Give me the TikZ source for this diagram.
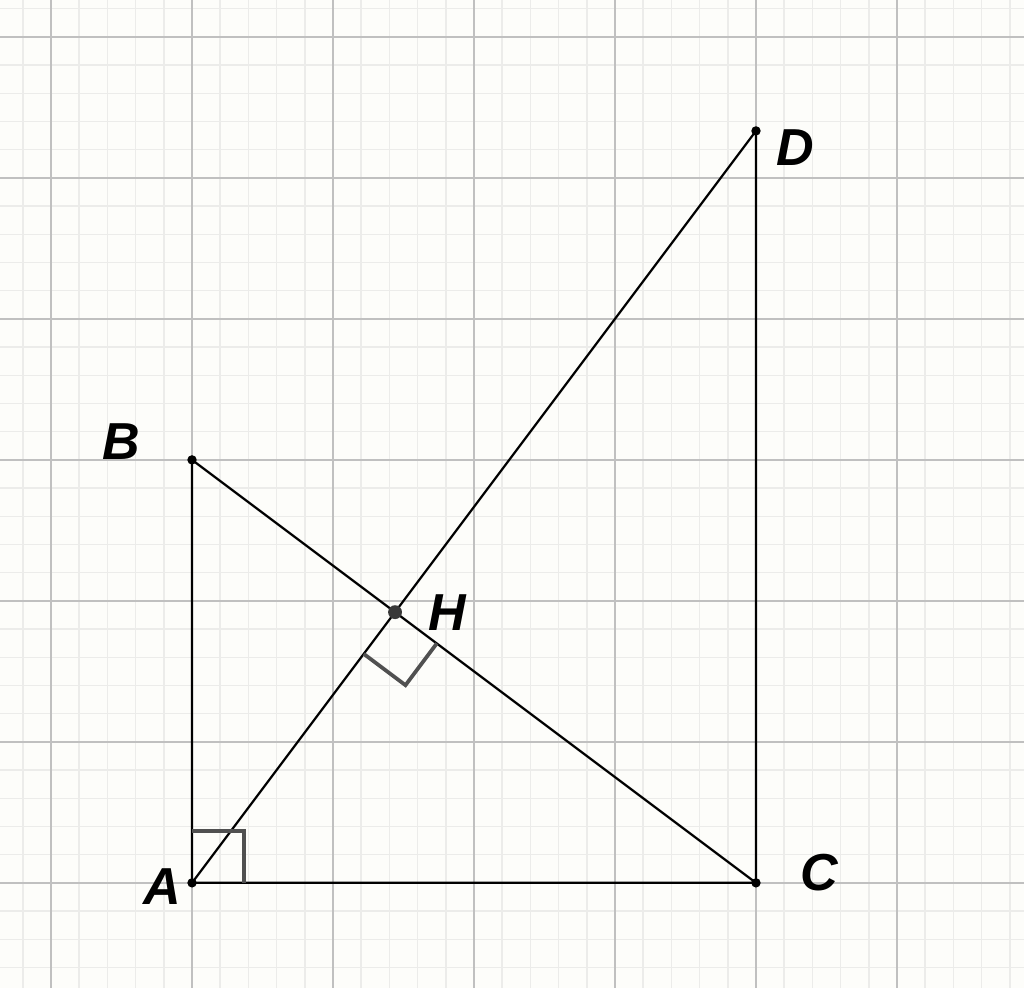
\documentclass[tikz,border=0pt]{standalone}
\usepackage{fontspec}
\setmainfont{Liberation Sans}
\usetikzlibrary{calc}
\usetikzlibrary{positioning}
\definecolor{paper}{RGB}{253,253,250}
\definecolor{minorgrid}{RGB}{236,236,234}
\definecolor{majorgrid}{RGB}{192,192,192}
\definecolor{markgray}{RGB}{80,80,80}
\tikzstyle{segment} = [black,line width=0.45pt]
\tikzstyle{rightmark} = [markgray,line width=0.75pt]
\tikzstyle{ptlabel} = [font=\fontsize{10.5}{12}\selectfont\bfseries\itshape,inner sep=0pt]
\tikzstyle{dot} = [circle,fill=black,inner sep=0pt,minimum size=1.9pt]

\begin{document}
\begin{tikzpicture}
		% paper and grid
		\fill [paper] (-1.362,-0.745) rectangle (5.901,6.262);
		\useasboundingbox (-1.362,-0.745) rectangle (5.901,6.262);
		\draw [minorgrid,line width=0.3pt,step=0.2] (-1.362,-0.745) grid (5.901,6.262);
		\draw [majorgrid,line width=0.4pt,step=1] (-1.362,-0.745) grid (5.901,6.262);
		
		\coordinate (A) at (0,0);
		\coordinate (B) at (0,3);
		\coordinate (C) at (4,0);
		\coordinate (D) at (4,16/3);
		\coordinate (H) at (1.44,1.92);
		
		\draw [segment] (A) -- (B) -- (C) -- (A);
		\draw [segment] (A) -- (D) -- (C);
		
		% right angles
		\draw [rightmark] ($(A)+(0,0.37)$) -- ++(0.37,0) -- ++(0,-0.37);
		\draw [rightmark] ($(H)!0.37cm!(A)$) -- ($(H)!0.37cm!(A)+(H)!0.37cm!(C)-(H)$) -- ($(H)!0.37cm!(C)$);
		
		\node (ptA) [dot] at (A) {};
		\node (ptB) [dot] at (B) {};
		\node (ptC) [dot] at (C) {};
		\node (ptD) [dot] at (D) {};
		\node (ptH) [circle,fill=markgray!70!black,inner sep=0pt,minimum size=2.8pt] at (H) {};
		
		\node (lblA) [ptlabel] at ($(A)+(-0.21,-0.03)$) {A};
		\node (lblB) [ptlabel] at ($(B)+(-0.50,0.13)$) {B};
		\node (lblC) [ptlabel] at ($(C)+(0.45,0.07)$) {C};
		\node (lblD) [ptlabel] at ($(D)+(0.28,-0.12)$) {D};
		\node (lblH) [ptlabel] at ($(H)+(0.37,0)$) {H};
	
	\end{tikzpicture}
\end{document}
